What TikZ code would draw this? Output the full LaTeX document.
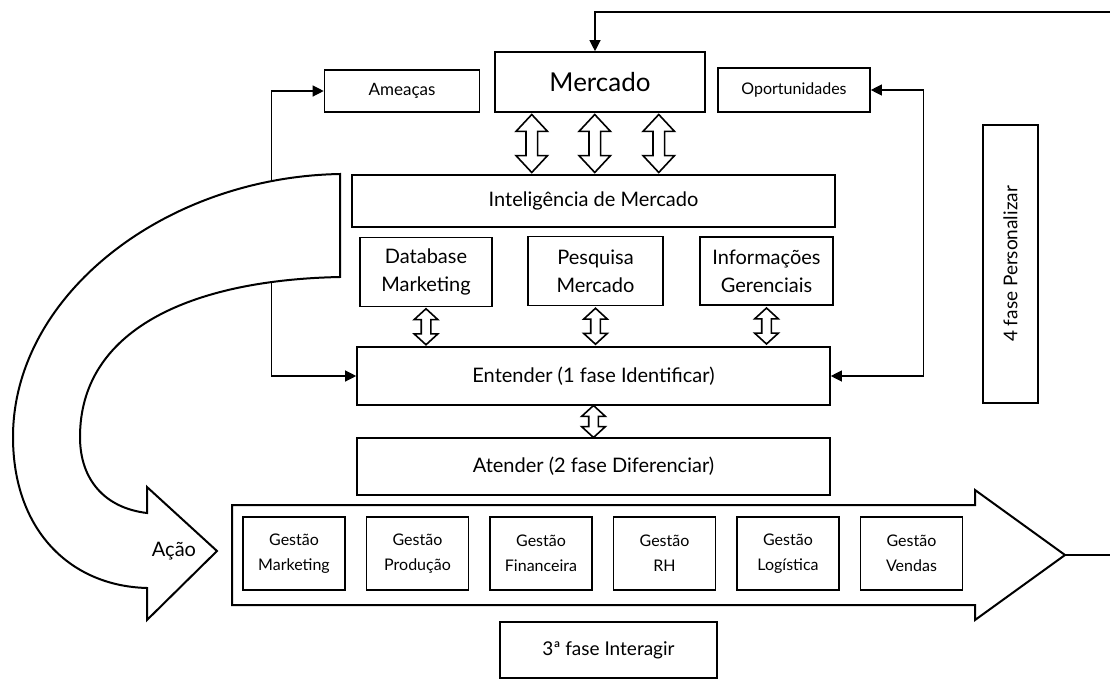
\documentclass[tikz,border=0pt]{standalone}
\usepackage{fontspec}
\setmainfont{Lato}
\usetikzlibrary{shapes.arrows,positioning,arrows.meta,calc}

\begin{document}
\begin{tikzpicture}[
        x=1pt, y=-1pt,
        box/.style={rectangle, draw=black, line width=1.6pt, fill=white, align=center, inner sep=2pt, font=\fontsize{20}{28}\selectfont},
        gbox/.style={box, line width=1.3pt, minimum width=102pt, minimum height=73pt, font=\fontsize{16}{25}\selectfont},
        conn/.style={line width=1.2pt, {Triangle[length=11pt,width=11pt]}-{Triangle[length=11pt,width=11pt]}},
        dbl/.style={double arrow, draw=black, line width=1.6pt, fill=white, rotate=90, inner sep=5pt, minimum width=0pt, double arrow head extend=10pt, double arrow tip angle=86},
        dblsmall/.style={dbl, inner sep=4pt, double arrow head extend=7pt, double arrow tip angle=95},
        bigarrow/.style={draw=black, line width=2pt, fill=white, line join=miter}
    ]
        \useasboundingbox (0,0) rectangle (1110,680);

        % Mercado
        \node[box, minimum width=210pt, minimum height=60pt, font=\fontsize{26}{30}\selectfont] (merc) at (600,82) {Mercado};
        \node[box, minimum width=155pt, minimum height=42pt, font=\fontsize{17}{20}\selectfont] (amea) at (402,91) {Ameaças};
        \node[box, minimum width=152pt, minimum height=44pt, font=\fontsize{16}{19}\selectfont] (oport) at (794,90) {Oportunidades};

        % Inteligencia
        \node[box, minimum width=483pt, minimum height=52pt] (intel) at (593.5,201) {Inteligência de Mercado};
        \node[box, minimum width=132pt, minimum height=69pt] (dbm) at (426,272) {Database\\Marketing};
        \node[box, minimum width=135pt, minimum height=69pt] (pesq) at (595.5,271) {Pesquisa\\Mercado};
        \node[box, minimum width=133pt, minimum height=68pt] (info) at (766.5,271) {Informações\\Gerenciais};

        % Entender / Atender
        \node[box, minimum width=473pt, minimum height=58pt] (enten) at (593.5,376) {Entender (1 fase Identificar)};
        \node[box, minimum width=473pt, minimum height=57pt] (atend) at (593.5,466.5) {Atender (2 fase Diferenciar)};

        % Fases
        \node[box, rotate=90, minimum width=278pt, minimum height=55pt, font=\fontsize{19}{22}\selectfont] (pers) at (1010.5,264) {4 fase Personalizar};
        \node[box, minimum width=217pt, minimum height=56pt, font=\fontsize{19}{22}\selectfont] (inter) at (608.5,650) {3ª fase Interagir};

        % Double arrows
        \foreach \dx [count=\i] in {-65,-2,62}
            \node[dbl, minimum height=58pt] (up\i) at ($(merc.south)!.5!(intel.north)+(\dx,0)$) {};
        \foreach \n [count=\i] in {dbm,pesq,info}
            \node[dblsmall, minimum height=36pt] (lo\i) at ($(\n.south)!.5!(\n.south |- enten.north)$) {};
        \node[dblsmall, minimum height=32pt] (mid) at ($(enten.south)!.5!(atend.north)$) {};

        % Acao arrow
        \draw[bigarrow] (232,505) -- (975,505) -- (975,490) -- (1065,555) coordinate (tip) -- (975,620) -- (975,605) -- (232,605) -- cycle;
        \coordinate (exit) at (1110,555);
        \draw[line width=1.2pt] (tip) -- (exit);
        \foreach \txt [count=\i] in {Marketing,Produção,Financeira,RH,Logística,Vendas}
            \node[gbox] (g\i) at ({294+123.5*(\i-1)},553.5) {Gestão\\\txt};

        % Connections
        \coordinate (topin) at (1110,12);
        \draw[line width=1.2pt, -{Triangle[length=11pt,width=11pt]}] (topin) -| ([xshift=-5pt]merc.north);
        \draw[conn] (amea.west) -- ++(-52,0) |- (enten.west);
        \draw[conn] (oport.east) -- ++(53,0) |- (enten.east);

        % Curved arrow
        \draw[bigarrow] (340,174) .. controls (165,177) and (13,295) .. (13,437)
            .. controls (13,530) and (70,586) .. (147,588)
            -- (147,620) -- (217,551) -- (147,487) -- (147,513)
            .. controls (105,508) and (80,480) .. (80,437)
            .. controls (80,330) and (190,280) .. (340,277) -- cycle;
        \node[font=\fontsize{20}{24}\selectfont] (acao) at (174,551) {Ação};
    \end{tikzpicture}
\end{document}
